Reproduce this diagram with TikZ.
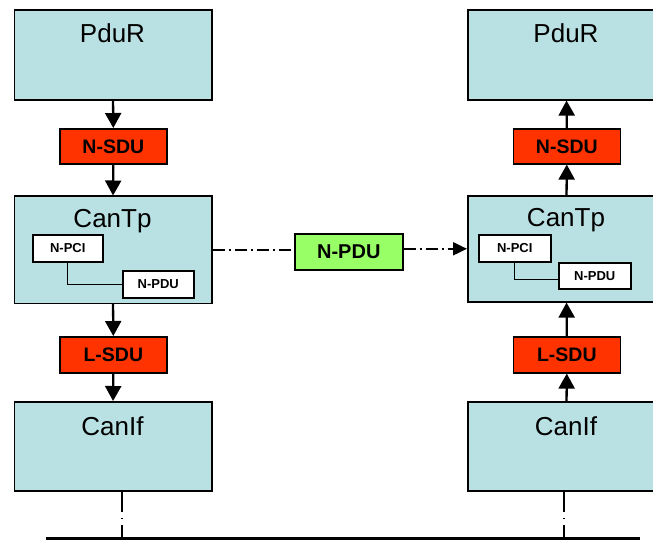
\documentclass[tikz,border=0pt]{standalone}
\usepackage{fontspec}
\setmainfont{Liberation Sans}
\usetikzlibrary{arrows.meta,calc}
\definecolor{tpblue}{RGB}{185,224,227}
\definecolor{sdured}{RGB}{255,51,0}
\definecolor{pdugreen}{RGB}{153,255,102}
\tikzset{
  layerbox/.style={draw=black, line width=1.6pt, fill=tpblue, inner sep=0pt, anchor=north west, minimum width=197.5pt},
  sdubox/.style={draw=black, line width=1.6pt, fill=sdured, inner sep=0pt, anchor=north west, minimum width=107pt, minimum height=35pt, font=\fontsize{19.5}{22}\selectfont\bfseries},
  pcibox/.style={draw=black, line width=1.6pt, fill=white, inner sep=0pt, anchor=north west, minimum height=27pt, font=\fontsize{13}{15}\selectfont\bfseries},
  layertext/.style={anchor=base, inner sep=0pt, font=\fontsize{26}{30}\selectfont},
  flow/.style={line width=2.3pt, -{Triangle[width=16pt,length=15pt]}},
  peer/.style={line width=2pt, dash pattern=on 12pt off 4pt on 2pt off 4pt},
  tap/.style={line width=1.3pt, dash pattern=on 20pt off 6pt on 1.5pt off 6pt},
}
\begin{document}
\begin{tikzpicture}[x=1pt,y=-1pt]
\useasboundingbox (0,0) rectangle (653,540);
\clip (0,0) rectangle (653,540);
% left stack
\node[layerbox, minimum height=89.5pt] (pdurL) at (13.5,9.5) {};
\node[layertext] (pdurLt) at (112.5,43) {PduR};
\node[sdubox] (nsduL) at (59,128) {N-SDU};
\node[layerbox, minimum height=107pt] (cantpL) at (13.5,195.5) {};
\node[layertext] (cantpLt) at (112.5,228) {CanTp};
\node[pcibox, minimum width=70pt] (npciL) at (32,234) {N-PCI};
\node[pcibox, minimum width=71pt] (npduL) at (122,270) {N-PDU};
\node[sdubox, minimum height=36pt] (lsduL) at (59,336) {L-SDU};
\node[layerbox, minimum height=89pt] (canifL) at (13.5,401) {};
\node[layertext] (canifLt) at (112.5,435) {CanIf};
% right stack
\node[layerbox, minimum height=89.5pt] (pdurR) at (467,9.5) {};
\node[layertext] (pdurRt) at (566,43) {PduR};
\node[sdubox] (nsduR) at (512.5,128) {N-SDU};
\node[layerbox, minimum height=106pt] (cantpR) at (467,195) {};
\node[layertext] (cantpRt) at (566,226) {CanTp};
\node[pcibox, minimum width=72pt] (npciR) at (478,234) {N-PCI};
\node[pcibox, minimum width=72pt, minimum height=26pt] (npduR) at (558,262) {N-PDU};
\node[sdubox, minimum height=36pt] (lsduR) at (512.5,336) {L-SDU};
\node[layerbox, minimum height=89pt] (canifR) at (467,401) {};
\node[layertext] (canifRt) at (566,435) {CanIf};
% middle PDU
\node[draw=black, line width=1.6pt, fill=pdugreen, inner sep=0pt, anchor=north west, minimum width=108pt, minimum height=36pt, font=\fontsize{20}{23}\selectfont\bfseries] (npduM) at (294,233) {N-PDU};
% inner connectors
\draw[line width=1.3pt] (npciL.south) |- (npduL.west);
\draw[line width=1.3pt] (npciR.south) |- ($(npduR.west)+(0,4)$);
% vertical flows
\draw[flow] (pdurL.south) -- (nsduL.north);
\draw[flow] (nsduL.south) -- (cantpL.north);
\draw[flow] (cantpL.south) -- (lsduL.north);
\draw[flow] (lsduL.south) -- (canifL.north);
\draw[flow] (nsduR.north) -- (pdurR.south);
\draw[flow] (cantpR.north) -- (nsduR.south);
\draw[flow] (lsduR.north) -- (cantpR.south);
\draw[flow] (canifR.north) -- (lsduR.south);
% peer connection
\draw[peer] (cantpL.east) -- (cantpL.east -| npduM.west);
\draw[peer, -{Triangle[width=13pt,length=14pt]}] (cantpR.west -| npduM.east) -- (cantpR.west);
% bus
\coordinate (busL) at (46,538.5);
\coordinate (busR) at (640,538.5);
\coordinate (tapL) at (122,538.5);
\coordinate (tapR) at (564,538.5);
\draw[tap] (canifL.south -| tapL) -- (tapL);
\draw[tap] (canifR.south -| tapR) -- (tapR);
\draw[line width=4pt] (busL) -- (busR);
\end{tikzpicture}
\end{document}
